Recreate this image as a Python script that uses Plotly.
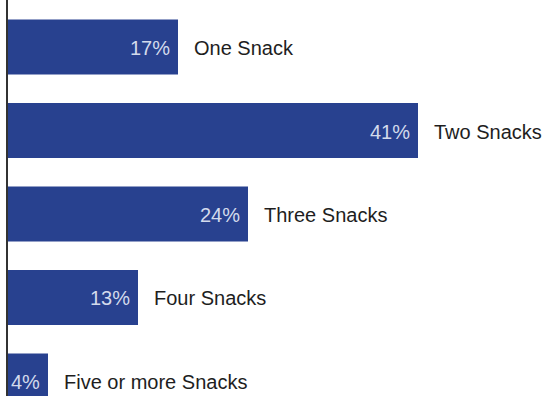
import plotly.graph_objects as go

categories = ["One Snack", "Two Snacks", "Three Snacks", "Four Snacks", "Five or more Snacks"]
values = [17, 41, 24, 13, 4]
value_labels = ["17%", "41%", "24%", "13%", "4%"]

BAR_COLOR = "#28418f"
FONT = "Liberation Sans, Arial, Helvetica, sans-serif"

fig = go.Figure()
fig.add_trace(go.Bar(
    x=values,
    y=categories,
    orientation="h",
    marker=dict(color=BAR_COLOR, line=dict(width=0)),
    width=0.66,
    hoverinfo="skip",
))

annotations = []
for cat, v, lab in zip(categories, values, value_labels):
    annotations.append(dict(
        x=v, y=cat, xref="x", yref="y", text=lab, showarrow=False,
        xanchor="right", yanchor="middle", xshift=-6, yshift=-1,
        font=dict(family=FONT, size=20, color="#d3daec"),
    ))
    annotations.append(dict(
        x=v, y=cat, xref="x", yref="y", text=cat, showarrow=False,
        xanchor="left", yanchor="middle", xshift=14, yshift=-1,
        font=dict(family=FONT, size=20, color="#1e1e1e"),
    ))

fig.update_layout(
    width=546, height=396,
    margin=dict(l=8, r=0, t=0, b=0),
    paper_bgcolor="white", plot_bgcolor="white",
    showlegend=False,
    annotations=annotations,
    xaxis=dict(range=[0, 53.8], showgrid=False, zeroline=False,
               showticklabels=False, ticks="", showline=False, fixedrange=True),
    yaxis=dict(type="category", categoryorder="array", categoryarray=categories,
               range=[4.18, -0.563], showgrid=False, zeroline=False,
               showticklabels=False, ticks="", showline=True,
               linecolor="#333333", linewidth=1.5, fixedrange=True),
)

fig.write_html(
    "out.html",
    config={"displayModeBar": False},
    post_script="document.body.style.margin='0px';document.body.style.overflow='hidden';",
)
